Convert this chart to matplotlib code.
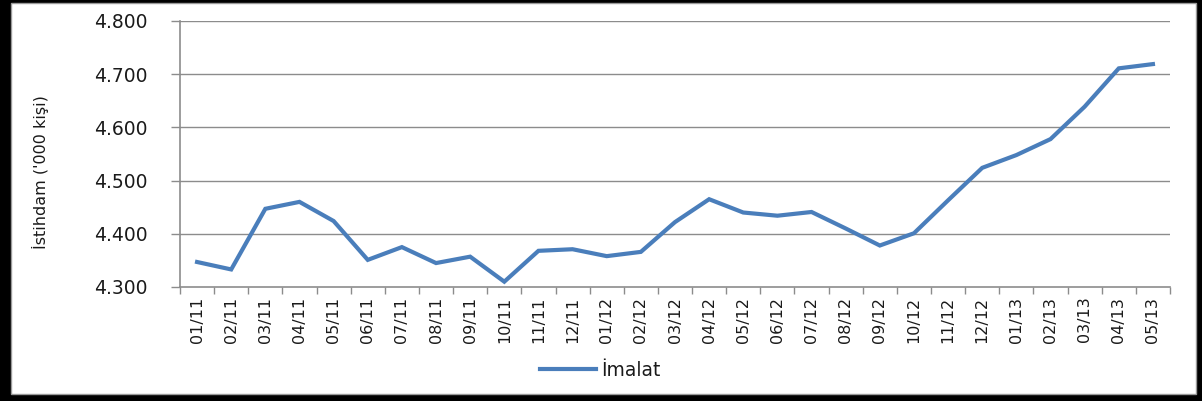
import matplotlib
matplotlib.use("Agg")
import matplotlib.pyplot as plt
import matplotlib.patches as mpatches
from matplotlib.ticker import FixedLocator, FuncFormatter, NullFormatter

# Imalat istihdami, bin kisi (aylik)
months = [
    "01/11", "02/11", "03/11", "04/11", "05/11", "06/11", "07/11", "08/11",
    "09/11", "10/11", "11/11", "12/11", "01/12", "02/12", "03/12", "04/12",
    "05/12", "06/12", "07/12", "08/12", "09/12", "10/12", "11/12", "12/12",
    "01/13", "02/13", "03/13", "04/13", "05/13",
]
imalat = [
    4347, 4333, 4447, 4460, 4424, 4351, 4375, 4345,
    4357, 4310, 4368, 4371, 4358, 4366, 4422, 4465,
    4440, 4434, 4441, 4410, 4378, 4401, 4463, 4524,
    4548, 4578, 4639, 4711, 4719,
]
y_ticks = [4300, 4400, 4500, 4600, 4700, 4800]

W, H = 1202, 401
fig = plt.figure(figsize=(W / 100, H / 100), dpi=100)
fig.patch.set_facecolor("black")

# white panel inside the black frame
panel = mpatches.Rectangle(
    (11 / W, 1 - 394 / H), (1196 - 11) / W, (394 - 3) / H,
    transform=fig.transFigure, facecolor="white",
    edgecolor="#9a9a9a", linewidth=1.0, zorder=-5,
)
fig.patches.append(panel)

ax = fig.add_axes([180 / W, 1 - 287 / H, (1170 - 180) / W, (287 - 21) / H])
ax.set_zorder(2)
ax.set_facecolor("none")

x = list(range(len(months)))
line, = ax.plot(x, imalat, color="#4a7ebb", linewidth=3.0,
                solid_joinstyle="miter", zorder=3, label="İmalat")

ax.set_xlim(-0.5, len(months) - 0.5)
ax.set_ylim(4300, 4800)

grid_col = "#8c8c8c"
ax.set_yticks(y_ticks)
ax.yaxis.set_major_formatter(
    FuncFormatter(lambda v, p: f"{v:,.0f}".replace(",", ".")))
for v in y_ticks[1:]:
    ax.axhline(v, color=grid_col, linewidth=1.0, zorder=1)

# category boundaries as major ticks, labels on minor ticks
ax.xaxis.set_major_locator(FixedLocator([i - 0.5 for i in range(len(months) + 1)]))
ax.xaxis.set_major_formatter(NullFormatter())
ax.xaxis.set_minor_locator(FixedLocator(x))
ax.set_xticklabels(months, minor=True, rotation=90)

ax.tick_params(axis="x", which="major", length=5, width=1.0, color=grid_col)
ax.tick_params(axis="x", which="minor", length=0, pad=7, labelsize=11.5,
               labelcolor="#1a1a1a")
ax.tick_params(axis="y", which="major", length=6.5, width=1.0, color=grid_col,
               pad=17, labelsize=13.5, labelcolor="#1a1a1a")

for s in ("top", "right"):
    ax.spines[s].set_visible(False)
for s in ("left", "bottom"):
    ax.spines[s].set_color(grid_col)
    ax.spines[s].set_linewidth(1.2)

fig.text(40 / W, 1 - 172 / H, "İstihdam ('000 kişi)", rotation=90,
         ha="center", va="center", fontsize=11.5, color="#1a1a1a")

leg = fig.legend(handles=[line], loc="center", bbox_to_anchor=(600 / W, 1 - 370 / H),
                 frameon=False, fontsize=13.5, handlelength=3.0, handletextpad=0.25)
for t in leg.get_texts():
    t.set_color("#1a1a1a")

fig.savefig("out.png", dpi=100, facecolor=fig.get_facecolor())
